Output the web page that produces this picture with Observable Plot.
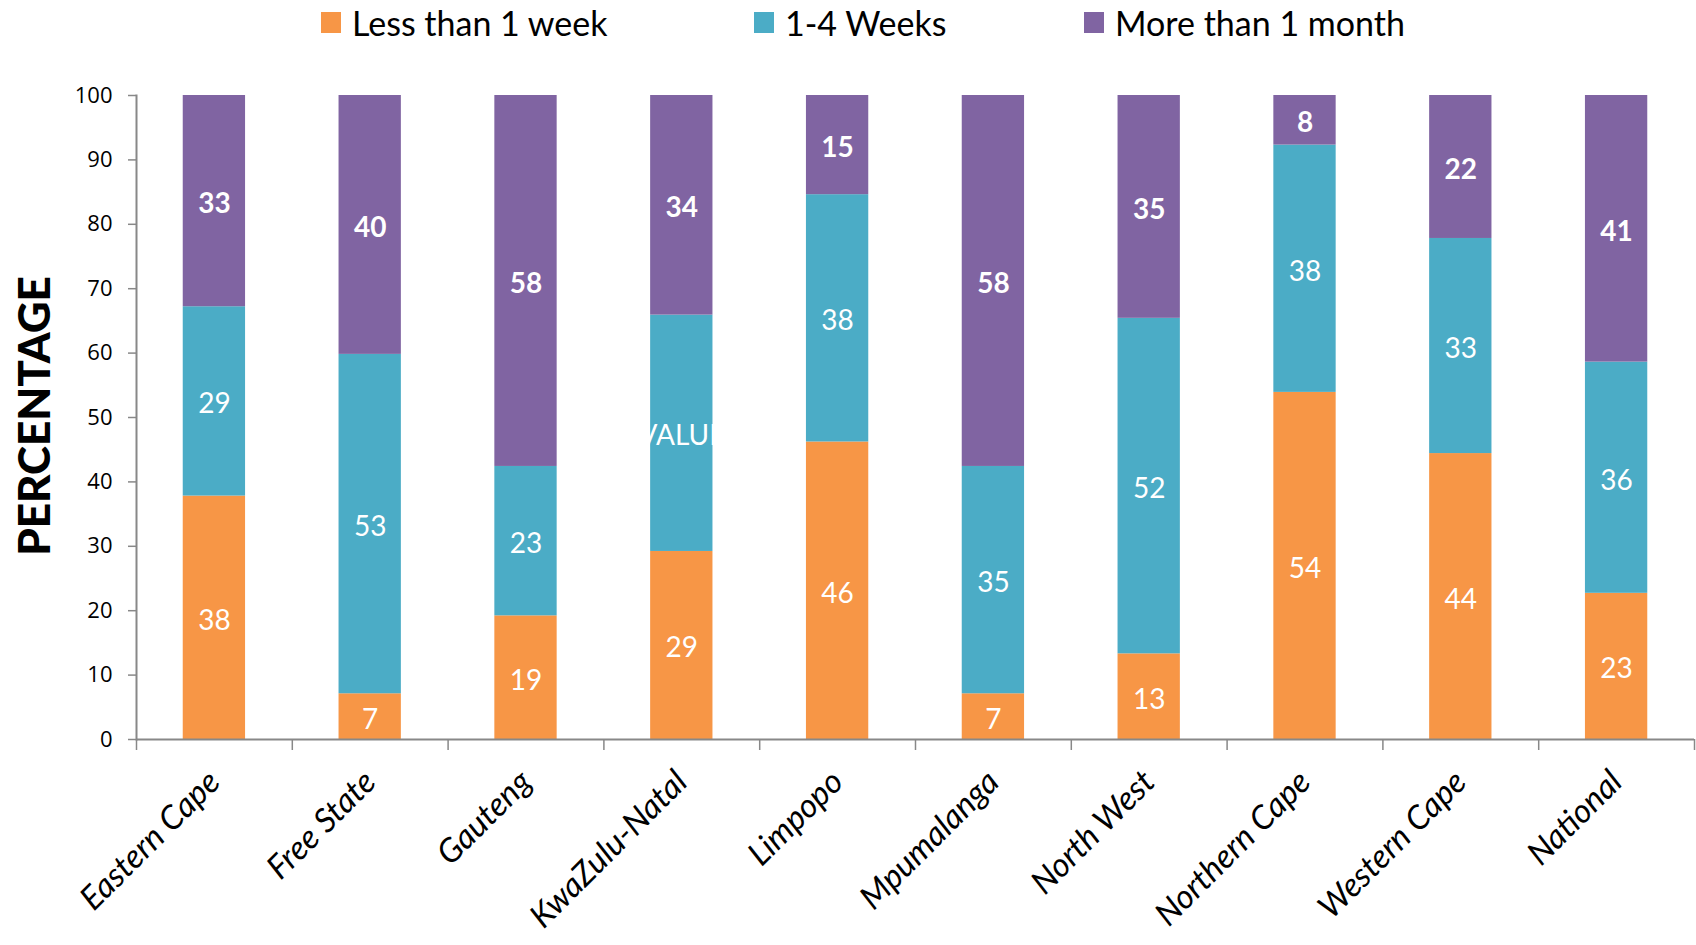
<!DOCTYPE html>
<html><head><meta charset="utf-8">
<script src="https://cdn.jsdelivr.net/npm/d3@7"></script>
<script src="https://cdn.jsdelivr.net/npm/@observablehq/plot@0.6"></script>
<style>
body{margin:0;background:#fff;font-family:Lato,"Open Sans",sans-serif;}
#wrap{position:relative;width:1696px;height:945px;overflow:hidden;}
#legend{position:absolute;top:0;left:0;width:1696px;height:50px;z-index:2;}
.item{position:absolute;top:2px;height:40px;display:flex;align-items:center;font-size:34px;color:#000;white-space:nowrap;}
.sw{width:20px;height:21px;margin-right:11px;}
#ylab{position:absolute;left:33px;top:416px;transform:translate(-50%,-50%) rotate(-90deg);font-size:44px;font-weight:900;color:#000;white-space:nowrap;z-index:3;}
#chart{position:absolute;top:50px;left:0;z-index:1;}
</style></head><body>
<div id="wrap"><div id="legend"></div><div id="ylab">PERCENTAGE</div><div id="chart"></div></div>
<script>
const provinces = ["Eastern Cape","Free State","Gauteng","KwaZulu-Natal","Limpopo","Mpumalanga","North West","Northern Cape","Western Cape","National"];
const lessThan1Week = [37.8, 7.1, 19.2, 29.2, 46.2, 7.1, 13.3, 53.9, 44.4, 22.7];
const oneToFourWeeks = [29.4, 52.7, 23.2, 36.7, 38.4, 35.3, 52.1, 38.4, 33.4, 35.9];
const moreThan1Month = [32.8, 40.2, 57.6, 34.1, 15.4, 57.6, 34.6, 7.7, 22.2, 41.4];
const seriesNames = ["Less than 1 week","1-4 Weeks","More than 1 month"];
const seriesColors = ["#F79646","#4BACC6","#8064A2"];
const yTicks = [0,10,20,30,40,50,60,70,80,90,100];
const placeholderLabel = {province:"KwaZulu-Natal", series:"1-4 Weeks", text:"[VALUE]"};

const seriesValues = [lessThan1Week, oneToFourWeeks, moreThan1Month];
const rows = [];
provinces.forEach((p,i)=>{
  seriesNames.forEach((s,j)=>{
    const v = seriesValues[j][i];
    const isPh = p===placeholderLabel.province && s===placeholderLabel.series;
    rows.push({province:p, series:s, value:v, label: isPh ? placeholderLabel.text : d3.format(".0f")(v)});
  });
});

// legend
const legendX = [321, 754, 1084];
const lg = document.getElementById("legend");
seriesNames.forEach((s,i)=>{
  const d = document.createElement("div");
  d.className="item"; d.style.left = legendX[i]+"px";
  d.innerHTML = `<span class="sw" style="background:${seriesColors[i]}"></span><span>${s}</span>`;
  lg.appendChild(d);
});

const W = 1696, mL = 136, mR = 2;
const half = (W - mL - mR) / provinces.length / 2;
const shadow = "drop-shadow(2px 2px 1.5px rgba(0,0,0,0.4))";
const topSeries = "More than 1 month";

const chart = Plot.plot({
  width: W, height: 895,
  marginTop: 45, marginBottom: 206, marginLeft: mL, marginRight: mR,
  style: {fontFamily: "Lato, 'Open Sans', sans-serif", background: "#fff", color:"#000", overflow:"visible"},
  x: {domain: provinces, paddingInner: 0.6, paddingOuter: 0.3, round: false, label: null},
  y: {domain: [0, 100], label: null},
  color: {domain: seriesNames, range: seriesColors},
  marks: [
    Plot.barY(rows, {x: "province", y: "value", fill: "series"}),
    Plot.text(rows, Plot.stackY({x: "province", y: "value", z: "series", dy: 3,
      text: d => d.series !== topSeries ? d.label : "", fill: "white", fontSize: 28, style: {filter: shadow}})),
    Plot.text(rows, Plot.stackY({x: "province", y: "value", z: "series", dy: 3,
      text: d => d.series === topSeries ? d.label : "", fill: "white", fontSize: 28, fontWeight: "bold"})),
    Plot.axisY({ticks: yTicks, tickSize: 8, tickPadding: 16, fontSize: 22, stroke: "#888", strokeWidth: 1.5, label: null, fontFamily:"'Open Sans', sans-serif"}),
    Plot.frame({anchor: "left", stroke: "#888", strokeWidth: 2}),
    Plot.ruleY([0], {stroke: "#888", strokeWidth: 2}),
    Plot.axisX(provinces, {tickSize: 11, text: null, dx: -half, stroke: "#888", strokeWidth: 1.5}),
    Plot.axisX(provinces.slice(-1), {tickSize: 11, text: null, dx: half, stroke: "#888", strokeWidth: 1.5}),
    Plot.axisX({tickSize: 0, tickRotate: -45, tickPadding: 37, fontSize: 33, fontStyle: "italic", label: null})
  ]
});
document.getElementById("chart").appendChild(chart);
</script>
</body></html>
